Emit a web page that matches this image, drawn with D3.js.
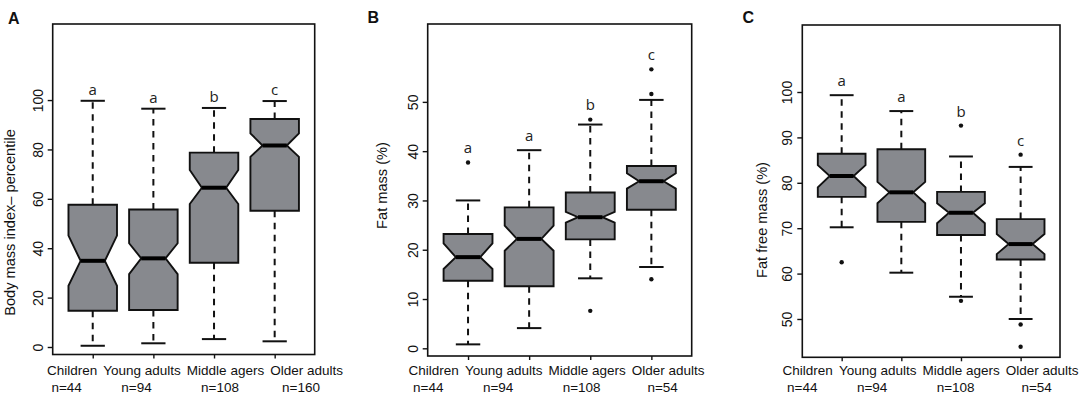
<!DOCTYPE html>
<html><head><meta charset="utf-8">
<script src="https://cdn.jsdelivr.net/npm/d3@7"></script>
<style>
body{margin:0;background:#fff}
svg{display:block}
</style>
</head><body>
<svg id="chart" width="1084" height="395"></svg>
<script>
// ---------- data ----------
const groups = ["Children", "Young adults", "Middle agers", "Older adults"];

// Panel A: Body mass index percentile  [min, Q1, median, Q3, max]
const bmiStats = [[0.5, 14.7, 34.9, 57.6, 99.7], [1.5, 15.0, 35.9, 55.7, 96.5], [3.2, 34.1, 64.5, 78.7, 96.8], [2.3, 55.2, 81.6, 92.3, 99.6]];
const bmiNotch = [[24.8, 45.1], [29.5, 42.0], [57.9, 71.7], [77.0, 86.5]];
const bmiOutliers = [[], [], [], []];
const bmiLetters = ["a", "a", "b", "c"];
const bmiN = [44, 94, 108, 160];
const bmiTicks = [0, 20, 40, 60, 80, 100];

// Panel B: Fat mass (%)
const fatStats = [[0.8, 13.7, 18.5, 23.2, 30.0], [4.1, 12.6, 22.2, 28.6, 40.2], [14.2, 22.1, 26.6, 31.6, 45.4], [16.5, 28.1, 33.9, 37.0, 50.4]];
const fatNotch = [[16.1, 21.3], [19.8, 24.9], [25.5, 27.7], [32.4, 35.5]];
const fatOutliers = [[37.7], [], [46.4, 7.6], [56.6, 51.6, 14.0]];
const fatLetters = ["a", "a", "b", "c"];
const fatN = [44, 94, 108, 54];
const fatTicks = [0, 10, 20, 30, 40, 50];

// Panel C: Fat free mass (%)
const ffmStats = [[70.2, 76.9, 81.5, 86.4, 99.3], [60.2, 71.4, 77.9, 87.4, 95.8], [54.9, 68.5, 73.4, 78.0, 85.8], [50.0, 63.1, 66.5, 72.0, 83.5]];
const ffmNotch = [[79.0, 83.9], [75.5, 80.2], [71.1, 75.5], [64.3, 68.7]];
const ffmOutliers = [[62.5], [], [92.6, 54.0], [86.2, 48.8, 43.9]];
const ffmLetters = ["a", "a", "b", "c"];
const ffmN = [44, 94, 108, 54];
const ffmTicks = [50, 60, 70, 80, 90, 100];

// ---------- layout ----------
const panels = [
  {tag: "A", title: "Body mass index\u2013 percentile", stats: bmiStats, notch: bmiNotch, out: bmiOutliers, letters: bmiLetters, ns: bmiN, ticks: bmiTicks,
   left: 52.7, right: 314.7, top: 24, bottom: 354.5, yDomain: [-3.04, 130.8],
   titleX: 15, titleY: 222.5, tagX: 8, tagY: 23.5, labelStart: 47, letterGap: 6},
  {tag: "B", title: "Fat mass (%)", stats: fatStats, notch: fatNotch, out: fatOutliers, letters: fatLetters, ns: fatN, ticks: fatTicks,
   left: 427.7, right: 691.7, top: 24, bottom: 356, yDomain: [-1.56, 65.8],
   titleX: 387, titleY: 185.5, tagX: 367.5, tagY: 22.5, labelStart: 408.6, letterGap: 9.5},
  {tag: "C", title: "Fat free mass (%)", stats: ffmStats, notch: ffmNotch, out: ffmOutliers, letters: ffmLetters, ns: ffmN, ticks: ffmTicks,
   left: 802.3, right: 1060, top: 25, bottom: 357.3, yDomain: [41.56, 114.76],
   titleX: 767, titleY: 220, tagX: 742.5, tagY: 22.5, labelStart: 782.6, letterGap: 9}
];

const svg = d3.select("#chart");
const fill = "#87898e";
const axisFont = "'Liberation Sans', Arial, sans-serif";

panels.forEach(p => {
  const g = svg.append("g");
  const x = d3.scaleLinear().domain([0.34, groups.length + 0.66]).range([p.left, p.right]);
  const y = d3.scaleLinear().domain(p.yDomain).range([p.bottom, p.top]);
  const hw = (x(1.4) - x(1.0)); // box half width (0.4 units)

  // y axis (left, rotated labels)
  const yAxis = g.append("g").attr("transform", `translate(${p.left},0)`)
    .call(d3.axisLeft(y).tickValues(p.ticks).tickSize(5).tickSizeOuter(0).tickFormat(d3.format("d")));
  yAxis.select(".domain").remove();
  yAxis.selectAll(".tick line").attr("stroke", "#111").attr("stroke-width", 1.4);
  yAxis.selectAll(".tick text")
    .attr("x", null).attr("dy", null)
    .attr("transform", "translate(-10,0) rotate(-90)")
    .attr("text-anchor", "middle")
    .attr("font-family", axisFont).attr("font-size", 14).attr("fill", "#111");

  // x axis ticks
  const xAxis = g.append("g").attr("transform", `translate(0,${p.bottom})`)
    .call(d3.axisBottom(x).tickValues(d3.range(1, groups.length + 1)).tickSize(4).tickSizeOuter(0).tickFormat(""));
  xAxis.select(".domain").remove();
  xAxis.selectAll(".tick line").attr("stroke", "#111").attr("stroke-width", 1.4);

  // boxes
  const boxes = g.selectAll(".bx").data(p.stats).enter().append("g").attr("class", "bx");
  boxes.each(function(s, i) {
    const b = d3.select(this);
    const cx = x(i + 1);
    const [mn, q1, md, q3, mx] = s;
    const [nl, nh] = p.notch[i];
    // whiskers
    b.append("line").attr("x1", cx).attr("x2", cx).attr("y1", y(q3)).attr("y2", y(mx))
      .attr("stroke", "#111").attr("stroke-width", 2).attr("stroke-dasharray", "6.5,5.5");
    b.append("line").attr("x1", cx).attr("x2", cx).attr("y1", y(q1)).attr("y2", y(mn))
      .attr("stroke", "#111").attr("stroke-width", 2).attr("stroke-dasharray", "6.5,5.5");
    // staples
    [mn, mx].forEach(v => b.append("line").attr("x1", cx - hw / 2).attr("x2", cx + hw / 2)
      .attr("y1", y(v)).attr("y2", y(v)).attr("stroke", "#111").attr("stroke-width", 2));
    // notched box
    const pts = [
      [cx - hw, y(q1)], [cx - hw, y(nl)], [cx - hw / 2, y(md)], [cx - hw, y(nh)], [cx - hw, y(q3)],
      [cx + hw, y(q3)], [cx + hw, y(nh)], [cx + hw / 2, y(md)], [cx + hw, y(nl)], [cx + hw, y(q1)]
    ];
    b.append("polygon").attr("points", pts.map(d => d.join(",")).join(" "))
      .attr("fill", fill).attr("stroke", "#111").attr("stroke-width", 1.9).attr("stroke-linejoin", "miter");
    // median
    b.append("line").attr("x1", cx - hw / 2).attr("x2", cx + hw / 2).attr("y1", y(md)).attr("y2", y(md))
      .attr("stroke", "#000").attr("stroke-width", 4);
    // outliers
    p.out[i].forEach(v => b.append("circle").attr("cx", cx).attr("cy", y(v)).attr("r", 2.2).attr("fill", "#111"));
    // significance letter
    const topV = d3.max([mx].concat(p.out[i]));
    b.append("text").attr("x", cx).attr("y", y(topV) - p.letterGap)
      .attr("text-anchor", "middle").attr("font-family", "'Open Sans', 'Noto Sans', sans-serif")
      .attr("font-size", 15).attr("fill", "#222").text(p.letters[i]);
  });

  // frame
  g.append("rect").attr("x", p.left).attr("y", p.top).attr("width", p.right - p.left).attr("height", p.bottom - p.top)
    .attr("fill", "none").attr("stroke", "#111").attr("stroke-width", 1.6);

  // category labels laid out in a row, with n below each
  let cursor = p.labelStart;
  groups.forEach((name, i) => {
    const t = g.append("text").attr("x", cursor).attr("y", 375)
      .attr("font-family", axisFont).attr("font-size", 13.5).attr("fill", "#111").text(name);
    const w = t.node().getComputedTextLength();
    g.append("text").attr("x", cursor + w / 2 - 5.5).attr("y", 392)
      .attr("text-anchor", "middle").attr("font-family", axisFont).attr("font-size", 13.5).attr("fill", "#111")
      .text("n=" + p.ns[i]);
    cursor += w + 6;
  });

  // y title
  g.append("text").attr("transform", `translate(${p.titleX},${p.titleY}) rotate(-90)`)
    .attr("text-anchor", "middle").attr("font-family", axisFont).attr("font-size", 14.6).attr("fill", "#111")
    .text(p.title);

  // panel tag
  g.append("text").attr("x", p.tagX).attr("y", p.tagY)
    .attr("font-family", axisFont).attr("font-weight", "bold").attr("font-size", 16).attr("fill", "#111")
    .text(p.tag);
});
</script>
</body></html>
